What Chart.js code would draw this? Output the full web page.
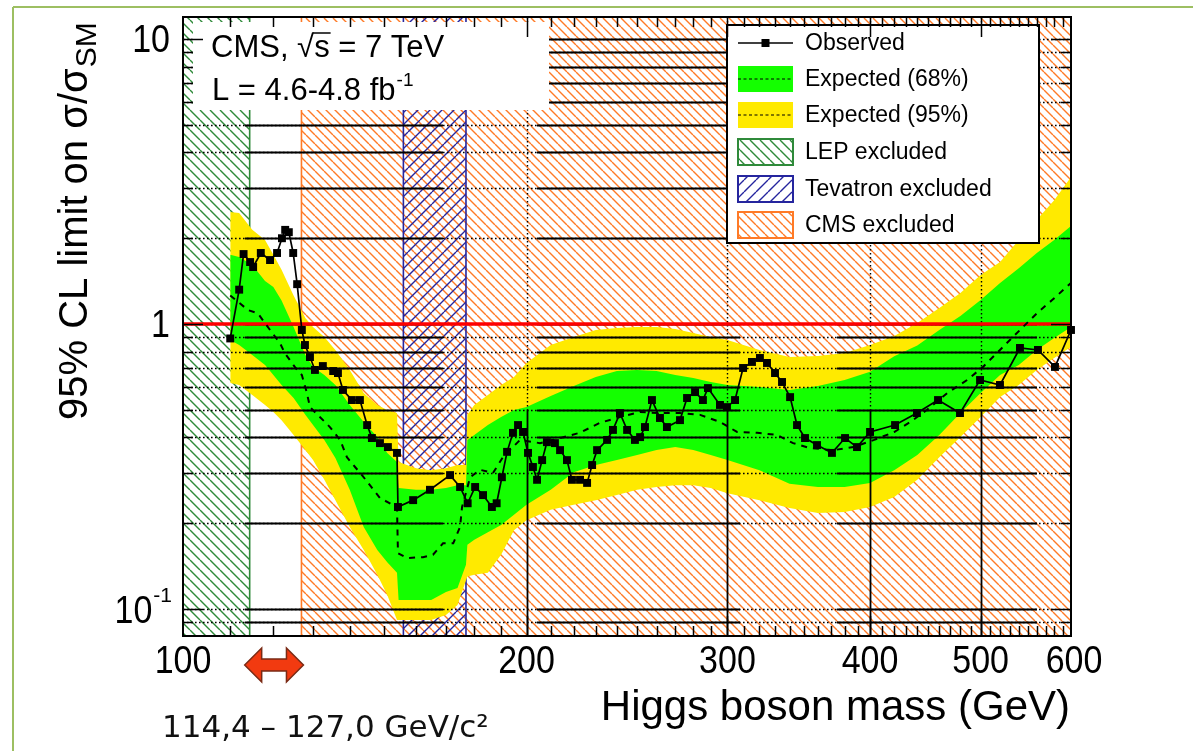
<!DOCTYPE html>
<html>
<head>
<meta charset="utf-8">
<title>CMS Higgs limit</title>
<script src="https://cdn.jsdelivr.net/npm/chart.js@4.4.1/dist/chart.umd.min.js"></script>
<style>
  html, body { margin: 0; padding: 0; background: #fff; }
  #box { width: 1198px; height: 751px; position: relative; }
</style>
</head>
<body>
<div id="box"><canvas id="limitChart" width="1198" height="751"></canvas></div>
<script>
// ---- data: mass points (GeV) and 95% CL limits on sigma/sigma_SM ----
const bandMass = [110, 112, 115, 118, 120, 122, 125, 128, 130, 133, 136, 140, 144, 148, 151, 154, 154.5,
  160, 165, 170, 174, 177, 177.5, 180, 185, 190, 195, 200, 210, 220, 230, 240, 250, 260, 270, 280, 290,
  300, 320, 340, 360, 380, 400, 420, 440, 460, 480, 500, 520, 540, 560, 580, 600];
const band95hi = [2.47, 2.45, 2.14, 1.97, 1.75, 1.55, 1.26, 1.05, 0.976, 0.90, 0.81, 0.69, 0.573, 0.52, 0.499, 0.487, 0.328,
  0.312, 0.307, 0.312, 0.32, 0.32, 0.48, 0.52, 0.563, 0.611, 0.652, 0.73, 0.844, 0.90, 0.953, 0.968, 0.976, 0.976, 0.961, 0.93, 0.90,
  0.879, 0.811, 0.766, 0.772, 0.791, 0.844, 0.908, 1.008, 1.138, 1.285, 1.486, 1.65, 1.97, 2.32, 2.72, 3.28];
const band68hi = [1.75, 1.72, 1.61, 1.415, 1.35, 1.21, 0.976, 0.778, 0.707, 0.662, 0.611, 0.52, 0.453, 0.401, 0.353, 0.328, 0.266,
  0.262, 0.262, 0.266, 0.272, 0.272, 0.392, 0.408, 0.442, 0.472, 0.499, 0.511, 0.559, 0.606, 0.652, 0.684, 0.69, 0.684, 0.662, 0.646, 0.626,
  0.611, 0.601, 0.587, 0.606, 0.636, 0.68, 0.77, 0.84, 0.953, 1.067, 1.214, 1.393, 1.57, 1.775, 1.97, 2.21];
const band68lo = [0.879, 0.844, 0.778, 0.718, 0.662, 0.611, 0.55, 0.48, 0.442, 0.392, 0.339, 0.262, 0.194, 0.161, 0.146, 0.134, 0.1075,
  0.1075, 0.1075, 0.1147, 0.1185, 0.143, 0.168, 0.175, 0.186, 0.197, 0.214, 0.232, 0.262, 0.302, 0.32, 0.333, 0.347, 0.361, 0.37, 0.361, 0.347,
  0.333, 0.307, 0.275, 0.268, 0.268, 0.277, 0.307, 0.347, 0.408, 0.487, 0.573, 0.662, 0.718, 0.811, 0.893, 0.976];
const band95lo = [0.621, 0.611, 0.563, 0.52, 0.491, 0.46, 0.408, 0.361, 0.333, 0.284, 0.241, 0.194, 0.161, 0.132, 0.112, 0.0915, 0.0915,
  0.0915, 0.0915, 0.0953, 0.1033, 0.126, 0.13, 0.132, 0.134, 0.155, 0.189, 0.205, 0.223, 0.232, 0.241, 0.251, 0.262, 0.268, 0.272, 0.272, 0.266,
  0.255, 0.241, 0.226, 0.217, 0.219, 0.228, 0.247, 0.284, 0.341, 0.401, 0.472, 0.554, 0.611, 0.69, 0.76, 0.83];

const expMass = [110, 114, 116.3, 119.2, 121.6, 122.8, 125.3, 127.1, 128.4, 129.2, 131.8, 134.5, 137.3, 139.2, 141.5, 143.5,
  148.8, 154, 154.3, 157.1, 162.3, 165.6, 169, 172.5, 174.9, 175.6, 178.5, 182.1, 186.9, 190.7, 193.4, 197.4, 205.5, 214,
  222.6, 231.9, 241.5, 251.5, 261.8, 272.6, 283.9, 295.5, 305.9, 318.5, 331.6, 342.5, 354.4, 371.5, 386.8, 403.3, 420,
  433.7, 448.5, 467.6, 486.5, 502.3, 519.9, 541.3, 560.4, 577.6, 600];
const expLimit = [1.26, 1.12, 1.09, 0.953, 0.858, 0.791, 0.707, 0.662, 0.573, 0.511, 0.472, 0.435, 0.392, 0.341, 0.315, 0.295,
  0.245, 0.228, 0.157, 0.151, 0.152, 0.155, 0.17, 0.17, 0.194, 0.228, 0.29, 0.308, 0.3, 0.341, 0.361, 0.392, 0.382, 0.398,
  0.415, 0.45, 0.472, 0.491, 0.487, 0.487, 0.48, 0.453, 0.418, 0.415, 0.408, 0.382, 0.367, 0.361, 0.37, 0.392, 0.418,
  0.453, 0.499, 0.573, 0.636, 0.707, 0.811, 0.953, 1.093, 1.214, 1.393];

const obsMass = [110, 112, 113, 114.5, 115.2, 117, 119.2, 120.9, 122.1, 122.9, 123.8, 124.9, 125.9, 127.1, 127.9, 129.2,
  130.5, 132.6, 135.4, 136.7, 138.1, 140.6, 142.9, 145, 146.4, 148.8, 151.2, 154, 154.3, 159.1, 164.6, 171.4, 174.9,
  177.6, 180.3, 183.2, 186.5, 188.3, 190.3, 192.3, 194.6, 196.6, 198.6, 200.6, 202.6, 204.3, 206.4, 208.4, 211.8, 214,
  217, 219.2, 222.8, 226, 228.3, 230.6, 235.3, 238.1, 241.5, 245, 248.9, 251.5, 254, 257.6, 261.8, 265.5, 272.6, 276.5,
  281, 285.5, 288.4, 295.5, 299.7, 304.6, 309.6, 315.2, 320.3, 324.9, 330.2, 334.9, 340.4, 345.2, 350.8, 359.4, 370.4,
  380.3, 389.6, 400, 420.7, 439.7, 458.8, 479.6, 499.4, 519.9, 541.3, 561.3, 580.9, 600];
const obsLimit = [0.89, 1.32, 1.76, 1.65, 1.585, 1.775, 1.677, 1.775, 2.0, 2.14, 2.10, 1.775, 1.38, 0.953, 0.844, 0.766,
  0.69, 0.712, 0.684, 0.673, 0.587, 0.541, 0.541, 0.442, 0.398, 0.382, 0.37, 0.353, 0.228, 0.241, 0.262, 0.295, 0.268,
  0.235, 0.268, 0.251, 0.228, 0.235, 0.29, 0.356, 0.415, 0.442, 0.418, 0.353, 0.315, 0.284, 0.333, 0.385, 0.382, 0.361,
  0.333, 0.284, 0.284, 0.277, 0.32, 0.361, 0.392, 0.425, 0.487, 0.425, 0.392, 0.401, 0.435, 0.541, 0.468, 0.435, 0.46, 0.55,
  0.577, 0.541, 0.596, 0.52, 0.511, 0.541, 0.701, 0.736, 0.76, 0.73, 0.673, 0.626, 0.554, 0.442, 0.398, 0.376, 0.353,
  0.398, 0.37, 0.418, 0.442, 0.487, 0.541, 0.487, 0.636, 0.611, 0.824, 0.811, 0.707, 0.953];

// excluded mass ranges (GeV)
const lepRange = [100, 114.4];
const tevRange = [156, 177];
const cmsRange = [127, 600];
const smLevel = 1;

// axes
const xTickLabels = [100, 200, 300, 400, 500, 600];
const yTickLabels = [0.1, 1, 10];
const yGridValues = [0.09, 0.1, 0.2, 0.3, 0.4, 0.5, 0.6, 0.7, 0.8, 0.9, 1, 2, 3, 4, 5, 6, 7, 8, 9, 10];
const X_MIN = 100, X_MAX = 600, Y_MIN = 0.0804, Y_MAX = 11.95;

// ---- styles ----
const FONT = '"Liberation Sans", Arial, Helvetica, sans-serif';
const GREEN = '#14ff00', YELLOW = '#ffea00';
const C_LEP = '#2f8a3a', C_TEV = '#25259e', C_CMS = '#ff7a26';
// stretches of the horizontal grid that are drawn solid (fractions of plot width)
const SOLID_SPANS = [[0.0698, 0.2928], [0.3986, 0.6273], [0.7365, 0.9617]];

const canvas = document.getElementById('limitChart');
const ctx0 = canvas.getContext('2d');

function hatch(color, step, width, rising) {
  const c = document.createElement('canvas');
  c.width = step; c.height = step;
  const g = c.getContext('2d');
  g.strokeStyle = color; g.lineWidth = width;
  g.beginPath();
  for (const k of [-step, 0, step]) {
    if (rising) { g.moveTo(k, step); g.lineTo(k + step, 0); }
    else { g.moveTo(k, 0); g.lineTo(k + step, step); }
  }
  g.stroke();
  return ctx0.createPattern(c, 'repeat');
}
const patCMS = hatch(C_CMS, 9, 1.4, false);
const patLEP = hatch(C_LEP, 10, 1.4, false);
const patTEV = hatch(C_TEV, 12, 1.4, true);

const xy = (xs, ys) => xs.map((x, i) => ({ x, y: ys[i] }));
const region = r => [{ x: r[0], y: Y_MAX }, { x: r[1], y: Y_MAX }];
const edge = m => [{ x: m, y: Y_MIN }, { x: m, y: Y_MAX }];
const flat = { pointRadius: 0, borderWidth: 0, fill: false };

const datasets = [
  { label: 'Observed', data: xy(obsMass, obsLimit), borderColor: '#000', borderWidth: 1.7, pointStyle: 'rect',
    pointRadius: 5.6, pointBackgroundColor: '#000', pointBorderWidth: 0, fill: false, clip: 8, order: 1 },
  { label: 'Expected', data: xy(expMass, expLimit), borderColor: '#000', borderWidth: 2, borderDash: [6, 6],
    pointRadius: 0, fill: false, order: 2 },
  { label: 'SM', data: [{ x: X_MIN, y: smLevel }, { x: X_MAX, y: smLevel }], borderColor: '#ff0000', borderWidth: 3.5,
    pointRadius: 0, fill: false, order: 3 },
  { label: 'band68hi', data: xy(bandMass, band68hi), ...flat, fill: 4, backgroundColor: GREEN, order: 4 },
  { label: 'band68lo', data: xy(bandMass, band68lo), ...flat, order: 5 },
  { label: 'band95hi', data: xy(bandMass, band95hi), ...flat, fill: 6, backgroundColor: YELLOW, order: 6 },
  { label: 'band95lo', data: xy(bandMass, band95lo), ...flat, order: 7 },
  { label: 'edgeLEP', data: edge(lepRange[1]), borderColor: C_LEP, borderWidth: 1.6, pointRadius: 0, fill: false, order: 8 },
  { label: 'edgeCMS', data: edge(cmsRange[0]), borderColor: C_CMS, borderWidth: 1.6, pointRadius: 0, fill: false, order: 8 },
  { label: 'edgeTev1', data: edge(tevRange[0]), borderColor: C_TEV, borderWidth: 1.6, pointRadius: 0, fill: false, order: 8 },
  { label: 'edgeTev2', data: edge(tevRange[1]), borderColor: C_TEV, borderWidth: 1.6, pointRadius: 0, fill: false, order: 8 },
  { label: 'Tevatron', data: region(tevRange), ...flat, fill: 'start', backgroundColor: patTEV, order: 9 },
  { label: 'LEP', data: region(lepRange), ...flat, fill: 'start', backgroundColor: patLEP, order: 10 },
  { label: 'CMS', data: region(cmsRange), ...flat, fill: 'start', backgroundColor: patCMS, order: 11 }
];

// ---- drawing helpers ----
function seg(ctx, x0, y0, x1, y1) {
  ctx.beginPath(); ctx.moveTo(x0, y0); ctx.lineTo(x1, y1); ctx.stroke();
}
function text(ctx, s, x, y, size, o = {}) {
  ctx.save();
  ctx.translate(x, y);
  if (o.rot) ctx.rotate(o.rot);
  ctx.scale(1, o.sy || 1);
  ctx.font = `${size}px ${o.family || FONT}`;
  ctx.textAlign = o.align || 'left';
  ctx.textBaseline = o.base || 'alphabetic';
  ctx.fillStyle = o.color || '#000';
  ctx.fillText(s, 0, 0);
  const w = ctx.measureText(s).width;
  ctx.restore();
  return w;
}

function drawGrid(chart) {
  const { ctx, chartArea: a, scales: { x, y } } = chart;
  const W = a.right - a.left;
  const yHalf = y.getPixelForValue(0.5);
  ctx.save();
  ctx.strokeStyle = '#000';
  ctx.lineWidth = 1.4;
  ctx.setLineDash([1.6, 2.4]);
  for (const v of yGridValues) {
    const py = Math.round(y.getPixelForValue(v)) + 0.5;
    seg(ctx, a.left, py, a.right, py);
  }
  for (const m of xTickLabels.slice(1, -1)) {
    const px = Math.round(x.getPixelForValue(m)) + 0.5;
    seg(ctx, px, a.top, px, yHalf);
  }
  ctx.setLineDash([]);
  ctx.lineWidth = 1.8;
  for (const v of yGridValues) {
    const py = Math.round(y.getPixelForValue(v)) + 0.5;
    for (const [f0, f1] of SOLID_SPANS) seg(ctx, a.left + f0 * W, py, a.left + f1 * W, py);
  }
  for (const m of xTickLabels.slice(1, -1)) {
    const px = Math.round(x.getPixelForValue(m)) + 0.5;
    seg(ctx, px, yHalf, px, a.bottom);
  }
  ctx.restore();
}

function drawLegend(ctx) {
  const L = 727, T = 25, R = 1039, B = 243;
  ctx.save();
  ctx.fillStyle = '#fff';
  ctx.fillRect(L, T, R - L, B - T);
  ctx.strokeStyle = '#000'; ctx.lineWidth = 2;
  ctx.strokeRect(L, T, R - L, B - T);
  const sx = 738, sw = 55, sh = 26, tx = 805;
  const rows = [
    { y: 43, label: 'Observed', kind: 'obs' },
    { y: 79, label: 'Expected (68%)', kind: 'band', color: GREEN },
    { y: 115, label: 'Expected (95%)', kind: 'band', color: YELLOW },
    { y: 152, label: 'LEP excluded', kind: 'hatch', pat: patLEP, color: C_LEP },
    { y: 189, label: 'Tevatron excluded', kind: 'hatch', pat: patTEV, color: C_TEV },
    { y: 225, label: 'CMS excluded', kind: 'hatch', pat: patCMS, color: C_CMS }
  ];
  for (const r of rows) {
    if (r.kind === 'obs') {
      ctx.strokeStyle = '#000'; ctx.lineWidth = 1.5;
      seg(ctx, sx, r.y, sx + sw, r.y);
      ctx.fillStyle = '#000';
      ctx.fillRect(sx + sw / 2 - 4, r.y - 4, 8, 8);
    } else if (r.kind === 'band') {
      ctx.fillStyle = r.color;
      ctx.fillRect(sx, r.y - sh / 2, sw, sh);
      ctx.strokeStyle = '#000'; ctx.lineWidth = 1.2;
      ctx.setLineDash([3, 2.5]);
      seg(ctx, sx, r.y, sx + sw, r.y);
      ctx.setLineDash([]);
    } else {
      ctx.fillStyle = '#fff';
      ctx.fillRect(sx, r.y - sh / 2, sw, sh);
      ctx.fillStyle = r.pat;
      ctx.fillRect(sx, r.y - sh / 2, sw, sh);
      ctx.strokeStyle = r.color; ctx.lineWidth = 2;
      ctx.strokeRect(sx, r.y - sh / 2, sw, sh);
    }
    text(ctx, r.label, tx, r.y + 1, 23, { base: 'middle' });
  }
  ctx.restore();
}

function drawInfoBox(ctx) {
  ctx.save();
  ctx.fillStyle = '#fff';
  ctx.fillRect(193, 22, 356, 88);
  let x = 211;
  x += text(ctx, 'CMS, ', x, 57, 31);
  const wr = text(ctx, '\u221A', x, 57, 31);
  const ws = text(ctx, 's', x + wr, 57, 31);
  ctx.strokeStyle = '#000'; ctx.lineWidth = 1.5;
  seg(ctx, x + wr - 1, 33, x + wr + ws + 1, 33);
  text(ctx, ' = 7 TeV', x + wr + ws, 57, 31);
  const wl = text(ctx, 'L = 4.6-4.8 fb', 212, 100, 31);
  text(ctx, '-1', 212 + wl + 1, 86, 19);
  ctx.restore();
}

function drawAxes(chart) {
  const { ctx, chartArea: a, scales: { x, y } } = chart;
  ctx.save();
  ctx.strokeStyle = '#000'; ctx.lineWidth = 1.5;
  for (let m = X_MIN + 10; m < X_MAX; m += 10) {
    const px = Math.round(x.getPixelForValue(m)) + 0.5;
    const len = m % 100 === 0 ? 20 : 10;
    seg(ctx, px, a.bottom, px, a.bottom - len);
    seg(ctx, px, a.top, px, a.top + len);
  }
  for (const v of yGridValues) {
    const py = Math.round(y.getPixelForValue(v)) + 0.5;
    const len = yTickLabels.includes(v) ? 20 : 10;
    seg(ctx, a.left, py, a.left + len, py);
    seg(ctx, a.right, py, a.right - len, py);
  }
  ctx.lineWidth = 2;
  ctx.strokeRect(a.left, a.top, a.right - a.left, a.bottom - a.top);

  // tick labels
  const sy = 1.12;
  for (const m of xTickLabels) {
    text(ctx, String(m), x.getPixelForValue(m) + (m === X_MAX ? 3 : 0), 662, 34, { align: 'center', base: 'middle', sy });
  }
  for (const v of yTickLabels) {
    const py = y.getPixelForValue(v);
    if (v < 1) {
      const w = text(ctx, '-1', 172, py - 13, 21, { align: 'right', base: 'middle' });
      text(ctx, '10', 172 - w - 1, py + 3, 34, { align: 'right', base: 'middle', sy });
    } else {
      text(ctx, String(v), 170, py + 2, 34, { align: 'right', base: 'middle', sy });
    }
  }

  // axis titles
  text(ctx, 'Higgs boson mass (GeV)', 1070, 720, 42, { align: 'right' });
  ctx.save();
  ctx.translate(87, 420);
  ctx.rotate(-Math.PI / 2);
  ctx.font = `40px ${FONT}`;
  ctx.fillStyle = '#000';
  ctx.textBaseline = 'alphabetic';
  const main = '95% CL limit on \u03C3/\u03C3';
  ctx.fillText(main, 0, 0);
  const wm = ctx.measureText(main).width;
  ctx.font = `30px ${FONT}`;
  ctx.fillText('SM', wm + 1, 9);
  ctx.restore();
  ctx.restore();
}

function drawNotes(chart) {
  const { ctx, scales: { x } } = chart;
  ctx.save();
  // mass window arrow
  const x0 = x.getPixelForValue(lepRange[1]) - 5, x1 = x.getPixelForValue(cmsRange[0]) + 2, yc = 665;
  const hh = 17, sh = 6, hl = 17;
  ctx.beginPath();
  ctx.moveTo(x0, yc);
  ctx.lineTo(x0 + hl, yc - hh); ctx.lineTo(x0 + hl, yc - sh);
  ctx.lineTo(x1 - hl, yc - sh); ctx.lineTo(x1 - hl, yc - hh);
  ctx.lineTo(x1, yc);
  ctx.lineTo(x1 - hl, yc + hh); ctx.lineTo(x1 - hl, yc + sh);
  ctx.lineTo(x0 + hl, yc + sh); ctx.lineTo(x0 + hl, yc + hh);
  ctx.closePath();
  ctx.fillStyle = '#f23a10'; ctx.fill();
  ctx.strokeStyle = '#7a2a14'; ctx.lineWidth = 1.5; ctx.stroke();
  text(ctx, '114,4 \u2013 127,0 GeV/c\u00B2', 162, 737, 31, { family: '"DejaVu Sans", sans-serif', color: '#111' });
  // slide frame
  ctx.strokeStyle = '#9dbf62'; ctx.lineWidth = 2;
  seg(ctx, 13, 7, 1193, 7);
  seg(ctx, 13, 7, 13, 751);
  ctx.restore();
}

const decor = {
  id: 'decor',
  afterDatasetDraw(chart, args) {
    if (chart.data.datasets[args.index].label === 'band68hi') drawGrid(chart);
  },
  afterDatasetsDraw(chart) {
    drawInfoBox(chart.ctx);
    drawLegend(chart.ctx);
    drawAxes(chart);
    drawNotes(chart);
  }
};

new Chart(canvas, {
  type: 'line',
  data: { datasets },
  options: {
    responsive: false,
    animation: false,
    devicePixelRatio: 1,
    layout: { padding: { left: 183, right: 127, top: 17, bottom: 115 } },
    elements: { line: { tension: 0 } },
    scales: {
      x: { type: 'logarithmic', min: X_MIN, max: X_MAX, display: false },
      y: { type: 'logarithmic', min: Y_MIN, max: Y_MAX, display: false }
    },
    plugins: { legend: { display: false }, tooltip: { enabled: false } }
  },
  plugins: [decor]
});
</script>
</body>
</html>
